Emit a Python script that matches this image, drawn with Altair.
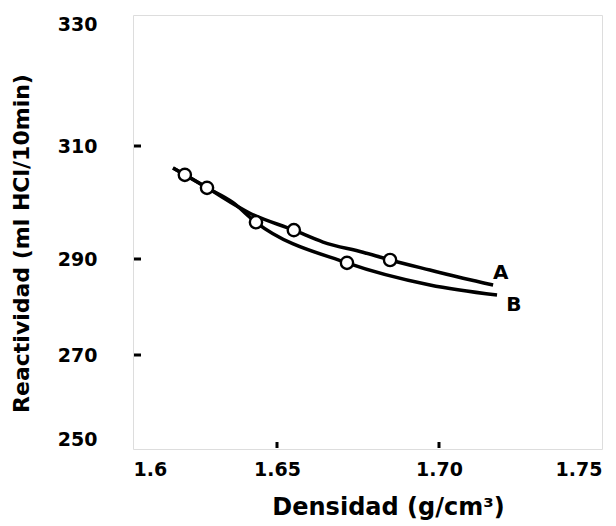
import altair as alt
import pandas as pd

# axis ticks
x_ticks = [1.6, 1.65, 1.70, 1.75]
y_ticks = [250, 270, 290, 310, 330]
x_inner_ticks = [1.65, 1.70]
y_inner_ticks = [270, 290, 310]

# curve A
a_x = [1.6139, 1.6181, 1.6257, 1.6406, 1.6552, 1.6642, 1.6765, 1.6849, 1.6972, 1.7074, 1.7166]
a_y = [306.1, 304.9, 302.6, 298.1, 295.1, 293.0, 291.2, 289.8, 287.7, 286.0, 284.6]
# curve B
b_x = [1.6139, 1.6257, 1.6344, 1.6427, 1.6716, 1.6972, 1.7178]
b_y = [306.1, 302.6, 300.1, 296.5, 289.2, 284.6, 282.5]
# measured points
pt_x = [1.6180, 1.6257, 1.6427, 1.6552, 1.6716, 1.6849]
pt_y = [304.9, 302.6, 296.5, 295.1, 289.2, 289.8]
# curve labels
lab_text = ["A", "B"]
lab_x = [1.7166, 1.7206]
lab_y = [287.1, 280.4]

W, H = 469, 434
FONT = "DejaVu Sans"

lines = pd.DataFrame({
    "x": a_x + b_x,
    "y": a_y + b_y,
    "serie": ["A"] * len(a_x) + ["B"] * len(b_x),
})
pts = pd.DataFrame({"x": pt_x, "y": pt_y})
labs = pd.DataFrame({"x": lab_x, "y": lab_y, "t": lab_text})
xt = pd.DataFrame({"x": x_inner_ticks})
yt = pd.DataFrame({"y": y_inner_ticks})

xscale = alt.Scale(domain=x_ticks, range=[0, 144, 306, W], zero=False, nice=False)
yscale = alt.Scale(domain=y_ticks, range=[H, 340, 244, 131, 0], zero=False, nice=False)

xaxis = alt.Axis(
    values=x_ticks,
    labelExpr="datum.value == 1.6 ? '1.6' : format(datum.value, '.2f')",
    title="Densidad (g/cm³)",
    grid=False, ticks=False, domain=False, labelFlush=True,
    labelFont=FONT, labelFontWeight="bold", labelFontSize=19, labelColor="black",
    labelPadding=11,
    titleFont=FONT, titleFontWeight="bold", titleFontSize=24, titleColor="black",
    titlePadding=16, titleX=255,
)
yaxis = alt.Axis(
    values=y_ticks, format="d",
    title="Reactividad (ml HCl/10min)",
    grid=False, ticks=False, domain=False, labelFlush=True,
    labelFont=FONT, labelFontWeight="bold", labelFontSize=19, labelColor="black",
    labelPadding=36,
    titleFont=FONT, titleFontWeight="bold", titleFontSize=22, titleColor="black",
    titlePadding=24, titleY=228,
)

base_x = alt.X("x:Q", scale=xscale, axis=xaxis)
base_y = alt.Y("y:Q", scale=yscale, axis=yaxis)

line_layer = alt.Chart(lines).mark_line(
    interpolate="monotone", strokeWidth=3.5, color="black", clip=True
).encode(x=base_x, y=base_y, detail="serie:N")

pt_layer = alt.Chart(pts).mark_point(
    shape="circle", filled=True, fill="white", stroke="black",
    strokeWidth=2.4, size=150, opacity=1
).encode(x=alt.X("x:Q", scale=xscale), y=alt.Y("y:Q", scale=yscale))

lab_layer = alt.Chart(labs).mark_text(
    font=FONT, fontWeight="bold", fontSize=20, align="left", baseline="middle", color="black"
).encode(x=alt.X("x:Q", scale=xscale), y=alt.Y("y:Q", scale=yscale), text="t:N")

xt_layer = alt.Chart(xt).mark_rule(color="black", strokeWidth=3).encode(
    x=alt.X("x:Q", scale=xscale), y=alt.value(H - 1), y2=alt.value(H - 7)
)
yt_layer = alt.Chart(yt).mark_rule(color="black", strokeWidth=3).encode(
    y=alt.Y("y:Q", scale=yscale), x=alt.value(1), x2=alt.value(8)
)

chart = alt.layer(xt_layer, yt_layer, line_layer, pt_layer, lab_layer).properties(
    width=W, height=H, padding={"left": 2, "top": 7, "right": 5, "bottom": 5}
).configure_view(
    stroke="black", strokeWidth=2.5
).configure(background="white")

chart.save("out.html", embed_options={"renderer": "svg", "actions": False})
